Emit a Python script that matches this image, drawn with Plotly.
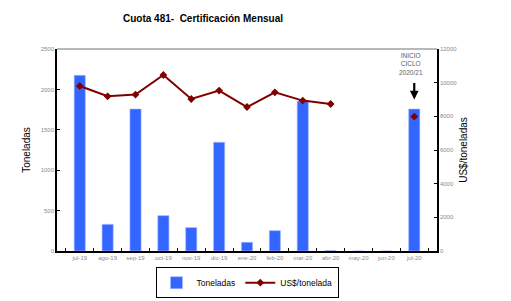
import plotly.graph_objects as go

meses = ["jul-19", "ago-19", "sep-19", "oct-19", "nov-19", "dic-19", "ene-20",
         "feb-20", "mar-20", "abr-20", "may-20", "jun-20", "jul-20"]
toneladas = [2174, 330, 1757, 438, 290, 1345, 108, 252, 1856, 5, 0, 0, 1757]
usd_ton = [9802, 9190, 9291, 10455, 9030, 9529, 8554, 9428, 8935, 8733, None, None, 7985]

left_ticks = [0, 500, 1000, 1500, 2000, 2500]
right_ticks = [0, 2000, 4000, 6000, 8000, 10000, 12000]

FONT = "Liberation Sans, Arial, sans-serif"
GREY = "#8a8a8a"

fig = go.Figure()
fig.add_trace(go.Bar(
    x=meses, y=toneladas, name="Toneladas",
    marker=dict(color="#3366FF", line=dict(color="#A8BBFF", width=0.6)),
    yaxis="y",
))
fig.add_trace(go.Scatter(
    x=meses, y=usd_ton, name="US$/tonelada", mode="lines+markers",
    line=dict(color="#800000", width=2),
    marker=dict(symbol="diamond", size=6, color="#800000"),
    connectgaps=False, yaxis="y2",
))

fig.update_layout(
    width=511, height=301,
    margin=dict(l=57, r=74, t=49, b=50, autoexpand=False),
    paper_bgcolor="white", plot_bgcolor="white",
    font=dict(family=FONT, color="black"),
    title=dict(text="<b>Cuota 481-  Certificación Mensual</b>", x=203/511, xanchor="center",
               y=1 - 18/301, yanchor="middle", font=dict(size=10, family=FONT, color="black")),
    bargap=0.6,
    showlegend=True,
    legend=dict(orientation="h", x=0.5, xanchor="center", y=-0.08, yanchor="top",
                bordercolor="black", borderwidth=1, font=dict(size=8.5, family=FONT),
                itemwidth=30, tracegroupgap=0),
    xaxis=dict(type="category", showline=True, linecolor="black", linewidth=1.5,
               ticks="inside", ticklen=3, tickcolor="black", tickson="boundaries",
               tickangle=0, automargin=False,
               tickfont=dict(size=6, color=GREY), showgrid=False, zeroline=False),
    yaxis=dict(range=[0, 2500], tickvals=left_ticks, showline=True, linecolor="black",
               linewidth=1.5, ticks="inside", ticklen=3, tickcolor="black", automargin=False,
               tickfont=dict(size=6, color=GREY), showgrid=False, zeroline=False,
               title=dict(text="Toneladas", font=dict(size=10, color="black"), standoff=8)),
    yaxis2=dict(range=[0, 12000], tickvals=right_ticks, overlaying="y", side="right",
                showline=True, linecolor="black", linewidth=1.5, ticks="inside", ticklen=3,
                tickcolor="black", tickformat="d", tickfont=dict(size=6, color=GREY),
                showgrid=False, zeroline=False, automargin=False,
                title=dict(text="US$/toneladas", font=dict(size=10, color="black"), standoff=4)),
    shapes=[dict(type="line", xref="paper", yref="paper", x0=0, x1=1, y0=1, y1=1,
                 line=dict(color="#A0A0A0", width=1.5))],
    annotations=[
        dict(x="jul-20", y=1.0, xref="x", yref="paper", yanchor="top",
             text="INICIO<br>CICLO<br>2020/21", showarrow=False,
             font=dict(size=6.5, color="#606060", family=FONT), bgcolor="white",
             xshift=-3, yshift=-1),
        dict(x="jul-20", y=1800, xref="x", yref="y", text="", showarrow=True,
             arrowhead=2, arrowsize=0.8, arrowwidth=2.2, arrowcolor="black",
             ax=0, ay=-18, yshift=6),
    ],
)

fig.write_html("out.html")
